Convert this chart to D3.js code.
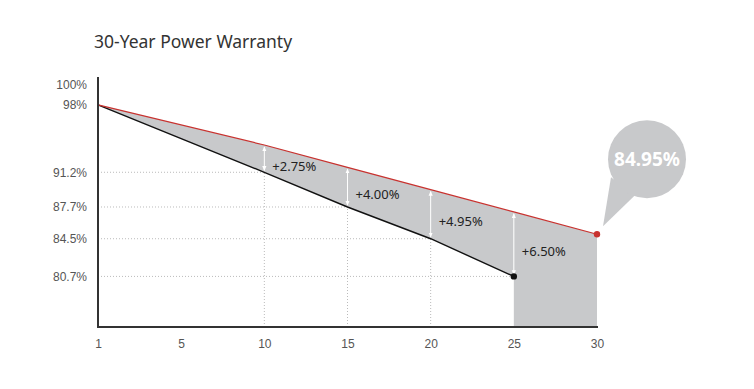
<!DOCTYPE html>
<html>
<head>
<meta charset="utf-8">
<script src="https://cdn.jsdelivr.net/npm/d3@7"></script>
<style>
  body { margin: 0; background: #fff; }
  svg { font-family: "Noto Sans", "Open Sans", sans-serif; }
</style>
</head>
<body>
<div id="chart"></div>
<script>
// ---------------------- data ----------------------
var years = [1, 5, 10, 15, 20, 25, 30];
var yTicks = [100, 98, 91.2, 87.7, 84.5, 80.7];

// warranty line (red) and standard line (black)
var redYears = [1, 10, 15, 20, 25, 30];
var redValues = [98, 93.95, 91.7, 89.45, 87.2, 84.95];
var blackYears = [1, 10, 15, 20, 25];
var blackValues = [98, 91.2, 87.7, 84.5, 80.7];

// gain labels between the lines
var gainYears = [10, 15, 20, 25];
var gainLabels = ["+2.75%", "+4.00%", "+4.95%", "+6.50%"];

var endLabel = "84.95%";

// ---------------------- setup ----------------------
var W = 754, H = 389;
var grey = "#c8c9cb", red = "#c8322f";

var svg = d3.select("#chart")
     .append("svg")
     .attr("width", W)
     .attr("height", H);

var x = d3.scalePoint().domain(years).range([98, 597]);
var y = d3.scaleLinear().domain([75.6, 100]).range([327, 85]);

var red_pts = redYears.map(function (d, i) { return [d, redValues[i]]; });
var black_pts = blackYears.map(function (d, i) { return [d, blackValues[i]]; });
function redAt(yr) { return redValues[redYears.indexOf(yr)]; }
function blackAt(yr) { return blackValues[blackYears.indexOf(yr)]; }

svg.append("text")
     .text("30-Year Power Warranty")
     .attr("x", 94)
     .attr("y", 48)
     .style("font-size", "17.5px")
     .style("fill", "#333");

// ---------------------- grey areas ----------------------
var area = d3.area()
     .x(function (d) { return x(d[0]); })
     .y0(function (d) { return y(blackAt(d[0])); })
     .y1(function (d) { return y(d[1]); });
svg.append("path")
     .datum(red_pts.filter(function (d) { return d[0] <= 25; }))
     .attr("d", area)
     .style("fill", grey);

var area2 = d3.area()
     .x(function (d) { return x(d[0]); })
     .y0(y(75.6))
     .y1(function (d) { return y(d[1]); });
svg.append("path")
     .datum(red_pts.filter(function (d) { return d[0] >= 25; }))
     .attr("d", area2)
     .style("fill", grey);

// ---------------------- dotted guides ----------------------
gainYears.forEach(function (yr) {
  svg.append("line")
     .attr("x1", x(1)).attr("x2", x(yr))
     .attr("y1", y(blackAt(yr))).attr("y2", y(blackAt(yr)))
     .style("stroke", "#bbb").style("stroke-dasharray", "1,2");
  if (yr < 25) {
    svg.append("line")
       .attr("x1", x(yr)).attr("x2", x(yr))
       .attr("y1", y(75.6)).attr("y2", y(blackAt(yr)))
       .style("stroke", "#bbb").style("stroke-dasharray", "1,2");
  }
});

// ---------------------- lines ----------------------
var line = d3.line()
     .x(function (d) { return x(d[0]); })
     .y(function (d) { return y(d[1]); });

svg.append("path").datum(black_pts).attr("d", line)
     .style("fill", "none").style("stroke", "#111").style("stroke-width", 1.4);
svg.append("path").datum(red_pts).attr("d", line)
     .style("fill", "none").style("stroke", red).style("stroke-width", 1.2);

// ---------------------- arrows ----------------------
var defs = svg.append("defs");
defs.append("marker")
     .attr("id", "ah")
     .attr("viewBox", "0 0 6 6")
     .attr("refX", 5).attr("refY", 3)
     .attr("markerWidth", 5).attr("markerHeight", 5)
     .attr("orient", "auto-start-reverse")
     .append("path").attr("d", "M0,0.5L6,3L0,5.5Z").style("fill", "#fff");

gainYears.forEach(function (yr, i) {
  var yTop = y(redAt(yr)) + 2, yBot = y(blackAt(yr)) - 2;
  svg.append("line")
     .attr("x1", x(yr)).attr("x2", x(yr))
     .attr("y1", yBot).attr("y2", yTop)
     .attr("marker-start", "url(#ah)")
     .attr("marker-end", "url(#ah)")
     .style("stroke", "#fff").style("stroke-width", 1);
  svg.append("text")
     .text(gainLabels[i])
     .attr("x", x(yr) + 8)
     .attr("y", (yTop + yBot) / 2 + 12)
     .style("font-size", "13px")
     .style("fill", "#222");
});

// end points
svg.append("circle").attr("cx", x(25)).attr("cy", y(blackAt(25))).attr("r", 3.2).style("fill", "#111");
svg.append("circle").attr("cx", x(30)).attr("cy", y(redAt(30))).attr("r", 3.2).style("fill", red);

// ---------------------- bubble ----------------------
var ex = x(30), ey = y(redAt(30));
var cx = ex + 50, cy = ey - 75;
svg.append("path")
     .attr("d", "M" + (ex + 6) + "," + (ey - 8) + "L" + (cx - 36) + "," + (cy + 18) + "L" + (cx - 12) + "," + (cy + 36) + "Z")
     .style("fill", grey);
svg.append("circle").attr("cx", cx).attr("cy", cy).attr("r", 39).style("fill", grey);
svg.append("text")
     .text(endLabel)
     .attr("x", cx).attr("y", cy + 7)
     .attr("text-anchor", "middle")
     .style("font-size", "19px")
     .style("font-weight", "bold")
     .style("fill", "#fff");

// ---------------------- axes ----------------------
var yAxis = d3.axisLeft(y).tickValues(yTicks).tickSize(0).tickPadding(11)
     .tickFormat(function (d) { return d + "%"; });
var gy = svg.append("g").attr("transform", "translate(98,0)").call(yAxis);
gy.select(".domain").remove();
gy.selectAll("text").style("font-size", "12px").style("fill", "#555").style("font-family", "inherit");

var xAxis = d3.axisBottom(x).tickSize(0).tickPadding(12);
var gx = svg.append("g").attr("transform", "translate(0,327)").call(xAxis);
gx.select(".domain").remove();
gx.selectAll("text").style("font-size", "12px").style("fill", "#555").style("font-family", "inherit");

svg.append("line").attr("x1", 98).attr("x2", 98).attr("y1", 77).attr("y2", 328)
     .style("stroke", "#333").style("stroke-width", 2);
svg.append("line").attr("x1", 97).attr("x2", 598).attr("y1", 327).attr("y2", 327)
     .style("stroke", "#333").style("stroke-width", 2);
</script>
</body>
</html>
